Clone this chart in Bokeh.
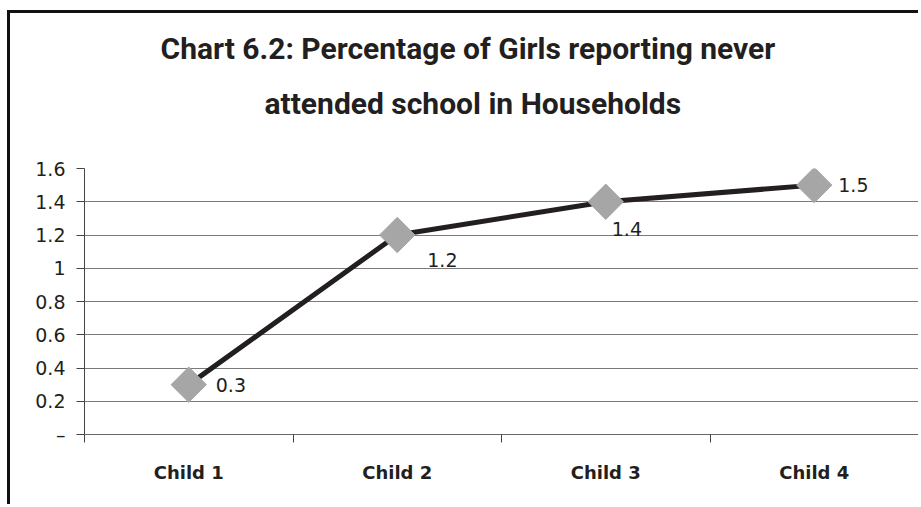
from bokeh.plotting import figure
from bokeh.models import ColumnDataSource, FixedTicker, Title, Range1d, LabelSet
from bokeh.core.properties import value
from bokeh.embed import file_html
from bokeh.resources import INLINE
import math

title_lines = ["Chart 6.2: Percentage of Girls reporting never", "attended school in Households"]
categories = ["Child 1", "Child 2", "Child 3", "Child 4"]
values = [0.3, 1.2, 1.4, 1.5]
value_labels = ["0.3", "1.2", "1.4", "1.5"]
y_ticks = [0, 0.2, 0.4, 0.6, 0.8, 1.0, 1.2, 1.4, 1.6]
y_tick_labels = ["–", "0.2", "0.4", "0.6", "0.8", "1", "1.2", "1.4", "1.6"]

# label placement (style, not data)
label_dx = [27, 30, 6, 24]
label_dy = [0, -25, -27, 0]

FONT = "DejaVu Sans"
TFONT = "Roboto"
INK = "#231f20"

xs = [i + 0.5 for i in range(len(categories))]
src = ColumnDataSource(dict(x=xs, y=values, lab=value_labels, dx=label_dx, dy=label_dy))

W, H = 911, 494
p = figure(width=W, height=H, output_backend="svg", toolbar_location=None,
           x_range=Range1d(0, len(categories)), y_range=Range1d(0, 1.6),
           min_border_left=74, min_border_right=3, min_border_bottom=73, min_border_top=155)
p.styles = {"border-left": "3px solid #111", "border-top": "3px solid #111",
            "margin-left": "7px", "margin-top": "10px"}
p.outline_line_color = None
p.background_fill_color = "white"
p.border_fill_color = "white"

# title: two lines centred on the whole chart area, plus a spacer before the plot
gap = Title(text=" ", text_font_size="1px", standoff=36)
t2 = Title(text=title_lines[1], align="left", offset=180, text_font=TFONT,
           text_font_size="30px", text_font_style="bold", text_color=INK, standoff=18)
t1 = Title(text=title_lines[0], align="left", offset=76, text_font=TFONT,
           text_font_size="30px", text_font_style="bold", text_color=INK, standoff=18)
p.add_layout(gap, "above")
p.add_layout(t2, "above")
p.add_layout(t1, "above")

# grid
p.xgrid.grid_line_color = None
p.ygrid.grid_line_color = "#7a7a7a"
p.ygrid.grid_line_width = 1

# y axis
p.yaxis.ticker = FixedTicker(ticks=y_ticks)
p.yaxis.major_label_overrides = {t: l for t, l in zip(y_ticks, y_tick_labels)}
p.yaxis.axis_line_color = "#444444"
p.yaxis.major_tick_line_color = "#444444"
p.yaxis.major_tick_out = 8
p.yaxis.major_tick_in = 0
p.yaxis.minor_tick_line_color = None
p.yaxis.major_label_standoff = 11
p.yaxis.major_label_text_font = FONT
p.yaxis.major_label_text_font_size = "19px"
p.yaxis.major_label_text_color = INK

# x axis: labels at category centers, ticks at boundaries
p.xaxis.ticker = FixedTicker(ticks=xs, minor_ticks=list(range(len(categories) + 1)))
p.xaxis.major_label_overrides = {x: c for x, c in zip(xs, categories)}
p.xaxis.axis_line_color = "#666666"
p.xaxis.major_tick_line_color = None
p.xaxis.minor_tick_line_color = "#444444"
p.xaxis.minor_tick_out = 8
p.xaxis.minor_tick_in = 0
p.xaxis.major_label_standoff = 19
p.xaxis.major_label_text_font = FONT
p.xaxis.major_label_text_font_size = "18px"
p.xaxis.major_label_text_font_style = "bold"
p.xaxis.major_label_text_color = INK

# series
p.line("x", "y", source=src, line_color=INK, line_width=5)
p.scatter("x", "y", source=src, marker="square", size=25, angle=math.pi / 4,
          fill_color="#a6a6a6", line_color="#a6a6a6")

labels = LabelSet(x="x", y="y", text="lab", source=src, x_offset="dx", y_offset="dy",
                  text_font=value(FONT), text_font_size="19px", text_color=INK,
                  text_baseline="middle", text_align="left")
p.add_layout(labels)

open("out.html", "w").write(file_html(p, INLINE))
